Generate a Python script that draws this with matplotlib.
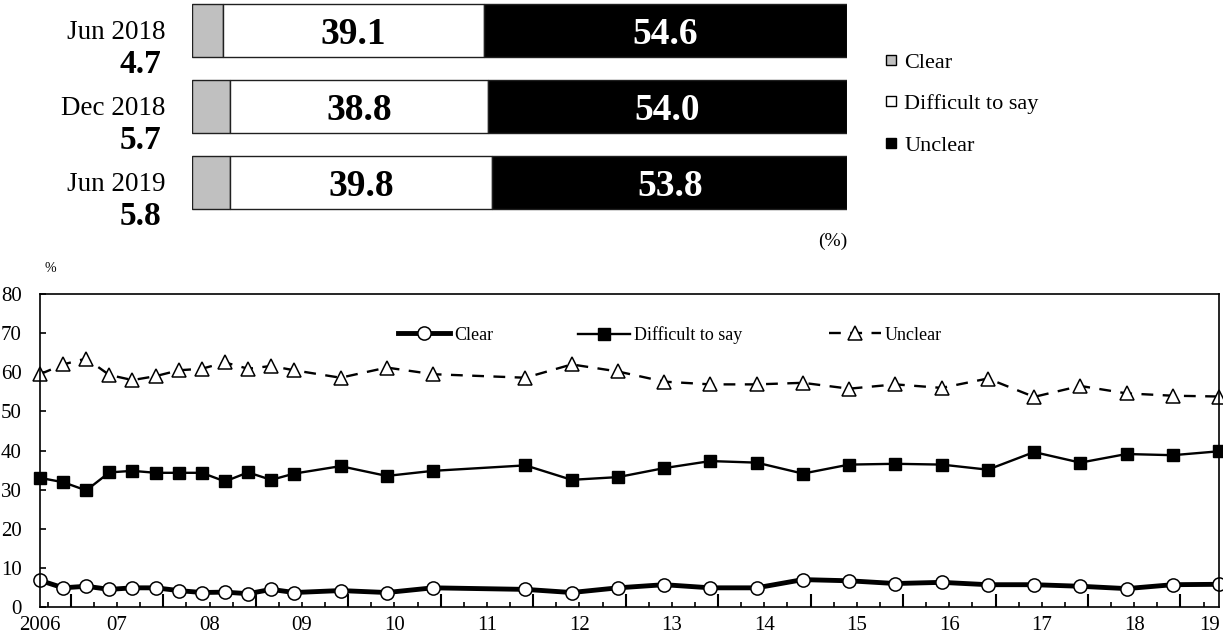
import matplotlib
matplotlib.use("Agg")
import matplotlib.pyplot as plt
from matplotlib.lines import Line2D
from matplotlib.legend import Legend
import numpy as np

plt.rcParams['font.family'] = ['Liberation Serif', 'DejaVu Serif']

# top chart: latest three surveys
periods = ["Jun 2018", "Dec 2018", "Jun 2019"]
clear_recent = [4.7, 5.7, 5.8]
difficult_recent = [39.1, 38.8, 39.8]
unclear_recent = [54.6, 54.0, 53.8]

# bottom chart: survey dates (year, month) and shares, %
survey_dates = [(2006, 9), (2006, 12), (2007, 3), (2007, 6), (2007, 9), (2007, 12),
                (2008, 3), (2008, 6), (2008, 9), (2008, 12), (2009, 3), (2009, 6),
                (2009, 12), (2010, 6), (2010, 12), (2011, 12), (2012, 6), (2012, 12),
                (2013, 6), (2013, 12), (2014, 6), (2014, 12), (2015, 6), (2015, 12),
                (2016, 6), (2016, 12), (2017, 6), (2017, 12), (2018, 6), (2018, 12),
                (2019, 6)]
clear = [6.8, 4.9, 5.3, 4.5, 4.9, 4.9, 4.2, 3.7, 3.8, 3.4, 4.5, 3.7, 4.2, 3.7, 4.9, 4.5,
         3.7, 4.9, 5.7, 4.9, 4.9, 7.0, 6.7, 6.0, 6.3, 5.7, 5.7, 5.3, 4.7, 5.7, 5.8]
difficult = [33.0, 31.9, 29.8, 34.4, 34.8, 34.3, 34.3, 34.3, 32.1, 34.4, 32.5, 34.1, 36.0,
             33.5, 34.8, 36.2, 32.5, 33.2, 35.5, 37.3, 36.9, 34.1, 36.4, 36.6, 36.4, 35.1,
             39.6, 36.9, 39.1, 38.8, 39.8]
unclear = [59.5, 62.0, 63.5, 59.3, 58.0, 59.0, 60.5, 60.9, 62.5, 60.9, 61.6, 60.5, 58.6,
           61.2, 59.5, 58.6, 62.0, 60.2, 57.6, 56.9, 56.9, 57.3, 55.8, 56.9, 56.0, 58.4,
           53.7, 56.5, 54.6, 54.0, 53.8]
year_labels = ["2006", "07", "08", "09", "10", "11", "12", "13", "14", "15", "16", "17", "18", "19"]

W, H = 1223, 638
fig = plt.figure(figsize=(W / 100, H / 100), dpi=100)

# ---- top stacked bars (100%) ----
ax1 = fig.add_axes([192 / W, 1 - 220 / H, 655 / W, 220 / H])
ax1.set_xlim(0, 100)
ax1.set_ylim(2.493, -0.401)
ax1.axis("off")

seg_colors = ["#c0c0c0", "white", "black"]
for i in range(len(periods)):
    vals = [clear_recent[i], difficult_recent[i], unclear_recent[i]]
    total = sum(vals)
    left = 0
    for j, v in enumerate(vals):
        share = v / total * 100
        ax1.barh(i, share, left=left, height=0.70, color=seg_colors[j],
                 edgecolor="#202020", linewidth=1.0)
        if j > 0:
            ax1.text(left + share / 2, i + 0.05, f"{v:.1f}", ha="center", va="center",
                     fontsize=27, fontweight="bold",
                     color="black" if j == 1 else "white")
        left += share
    ax1.text(-4.1, i + 0.03, periods[i], ha="right", va="center", fontsize=19.5)
    ax1.text(-4.7, i + 0.45, f"{clear_recent[i]:.1f}", ha="right", va="center",
             fontsize=24, fontweight="bold")

ax1.text(100, 2.78, "(%)", ha="right", va="center", fontsize=14, clip_on=False)

top_handles = [Line2D([], [], marker="s", ls="none", markersize=7, mfc=c,
                      mec="black", mew=1.0) for c in seg_colors]
fig.legend(top_handles, ["Clear", "Difficult to say", "Unclear"],
           loc="upper left", bbox_to_anchor=(882 / W, 1 - 52 / H),
           frameon=False, fontsize=16, handlelength=0.8, handletextpad=0.2,
           labelspacing=0.95, borderpad=0, borderaxespad=0)

# ---- bottom time series ----
ax2 = fig.add_axes([40 / W, 1 - 607 / H, 1179 / W, 313 / H])
xs = [y + (m - 1) / 12 for y, m in survey_dates]

ax2.plot(xs, unclear, color="black", lw=1.7, ls=(0, (5, 4)), marker="^",
         markersize=10, mfc="white", mec="black", mew=1.1, label="Unclear", clip_on=False)
ax2.plot(xs, difficult, color="black", lw=1.7, marker="s", markersize=8.5,
         mfc="black", mec="black", label="Difficult to say", clip_on=False)
ax2.plot(xs, clear, color="black", lw=3.5, marker="o", markersize=9.5,
         mfc="white", mec="black", mew=1.1, label="Clear", clip_on=False)

ax2.set_xlim(2006 + 8 / 12, 2019 + 5 / 12)
ax2.set_ylim(0, 80)
ax2.set_yticks(range(0, 81, 10))
ax2.set_xticks(range(2007, 2020))
ax2.set_xticks(np.arange(2006.75, 2019.3, 0.25), minor=True)
ax2.set_xticklabels([])
ax2.tick_params(axis="x", which="major", direction="in", length=9.5, width=1.5)
ax2.tick_params(axis="x", which="minor", direction="in", length=3.6, width=1.2)
ax2.tick_params(axis="y", direction="in", length=4, width=1.2, pad=13, labelsize=15)
for s in ax2.spines.values():
    s.set_linewidth(1.2)

label_pos = [2006.667] + [y + 0.5 for y in range(2007, 2019)] + [2019.31]
for lab, xp in zip(year_labels, label_pos):
    ax2.text(xp, -0.058, lab, transform=ax2.get_xaxis_transform(),
             ha="center", va="center", fontsize=15)

ax2.text(0.004, 1.083, "%", transform=ax2.transAxes, ha="left", va="center", fontsize=10)

# one legend box per series, placed like the original
hmap = {l.get_label(): l for l in ax2.get_lines()}
for name, xa in [("Clear", 0.3037), ("Difficult to say", 0.4563), ("Unclear", 0.6692)]:
    leg = Legend(ax2, [hmap[name]], [name], loc="center left", bbox_to_anchor=(xa, 0.869),
                 frameon=False, fontsize=13, handlelength=2.9, handletextpad=0.2,
                 borderpad=0, borderaxespad=0)
    ax2.add_artist(leg)

fig.savefig("out.png", dpi=100)
